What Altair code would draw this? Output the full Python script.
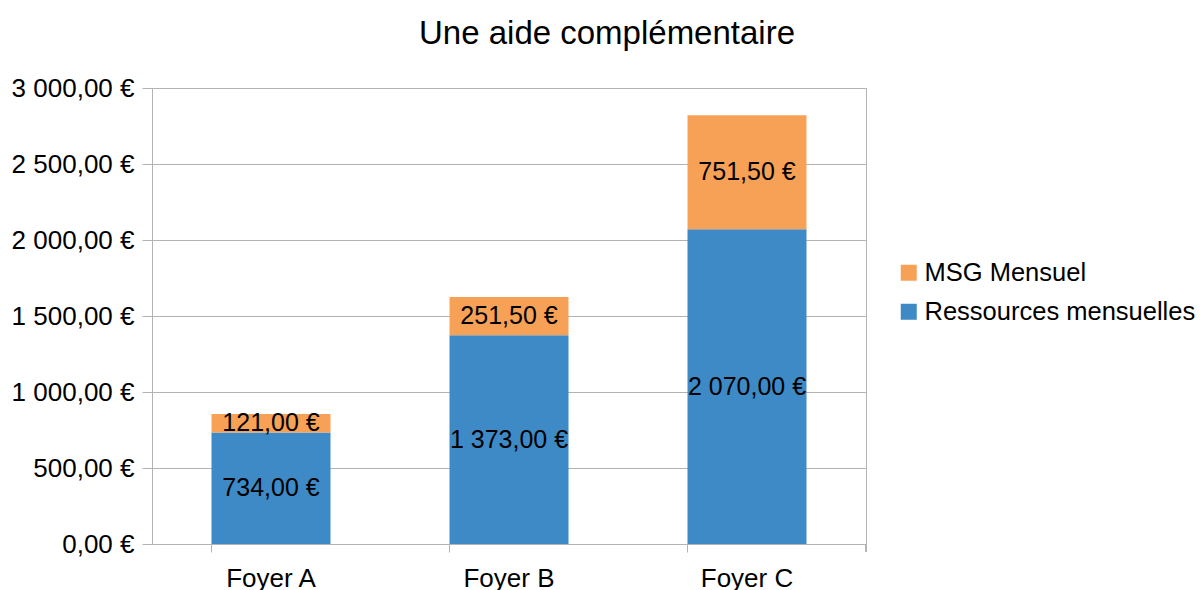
import altair as alt
import pandas as pd

foyers = ["Foyer A", "Foyer B", "Foyer C"]
ressources = [734.0, 1373.0, 2070.0]
msg = [121.0, 251.5, 751.5]
series = ["MSG Mensuel", "Ressources mensuelles"]
colors = ["#f7a157", "#3e8ac6"]
y_ticks = [0, 500, 1000, 1500, 2000, 2500, 3000]


def fmt(v):
    return f"{v:,.2f}".replace(",", " ").replace(".", ",") + " €"


rows = []
for f, r, m in zip(foyers, ressources, msg):
    rows.append({"foyer": f, "serie": "Ressources mensuelles", "valeur": r, "ordre": 0, "label": fmt(r)})
    rows.append({"foyer": f, "serie": "MSG Mensuel", "valeur": m, "ordre": 1, "label": fmt(m)})
df = pd.DataFrame(rows)

FONT = "Liberation Sans"
GRID = "#b3b3b3"

base = alt.Chart(df).transform_stack(
    stack="valeur", groupby=["foyer"], as_=["y0", "y1"],
    sort=[alt.SortField("ordre", order="ascending")]
).transform_calculate(mid="(datum.y0 + datum.y1) / 2")

x_enc = alt.X(
    "foyer:N", title=None, sort=foyers,
    scale=alt.Scale(paddingInner=0.5, paddingOuter=0.25),
    axis=alt.Axis(
        bandPosition=0, labelAngle=0, tickSize=8, tickColor=GRID, domainColor=GRID,
        labelFontSize=26, labelFont=FONT, labelColor="#000000", labelPadding=13,
        grid=False,
    ),
)

bars = base.mark_bar().encode(
    x=x_enc,
    y=alt.Y(
        "y0:Q", title=None,
        scale=alt.Scale(domain=[0, 3000], nice=False),
        axis=alt.Axis(
            values=y_ticks, tickSize=10, tickColor=GRID, domainColor=GRID, gridColor=GRID,
            labelFontSize=26, labelFont=FONT, labelColor="#000000", labelPadding=8,
            labelExpr="replace(replace(format(datum.value, ',.2f'), ',', ' '), '.', ',') + ' €'",
        ),
    ),
    y2="y1:Q",
    color=alt.Color(
        "serie:N", title=None,
        scale=alt.Scale(domain=series, range=colors),
        legend=alt.Legend(
            orient="none", legendX=744, legendY=172, symbolType="square", symbolSize=256,
            symbolStrokeWidth=0, labelFontSize=25.5, labelFont=FONT, labelColor="#000000",
            labelOffset=3, rowPadding=12, padding=0, labelLimit=400,
        ),
    ),
)

texts = base.mark_text(fontSize=25, font=FONT, color="#000000").encode(
    x=alt.X("foyer:N", sort=foyers),
    y=alt.Y("mid:Q"),
    text="label:N",
)

end_tick = alt.Chart(df).mark_rule(color=GRID).encode(
    x=alt.value(714), y=alt.value(456), y2=alt.value(464)
)

chart = alt.layer(bars, texts, end_tick).properties(
    width=714, height=456,
    title=alt.TitleParams(
        "Une aide complémentaire", fontSize=33, font=FONT, fontWeight="normal",
        color="#000000", anchor="middle", dx=98, offset=24,
    ),
    autosize=alt.AutoSizeParams(type="none"),
    padding={"left": 144, "top": 80, "right": 330, "bottom": 46},
).configure_view(stroke=GRID).configure_axis(gridColor=GRID)

chart.save("out.html", embed_options={"renderer": "svg", "actions": False})
